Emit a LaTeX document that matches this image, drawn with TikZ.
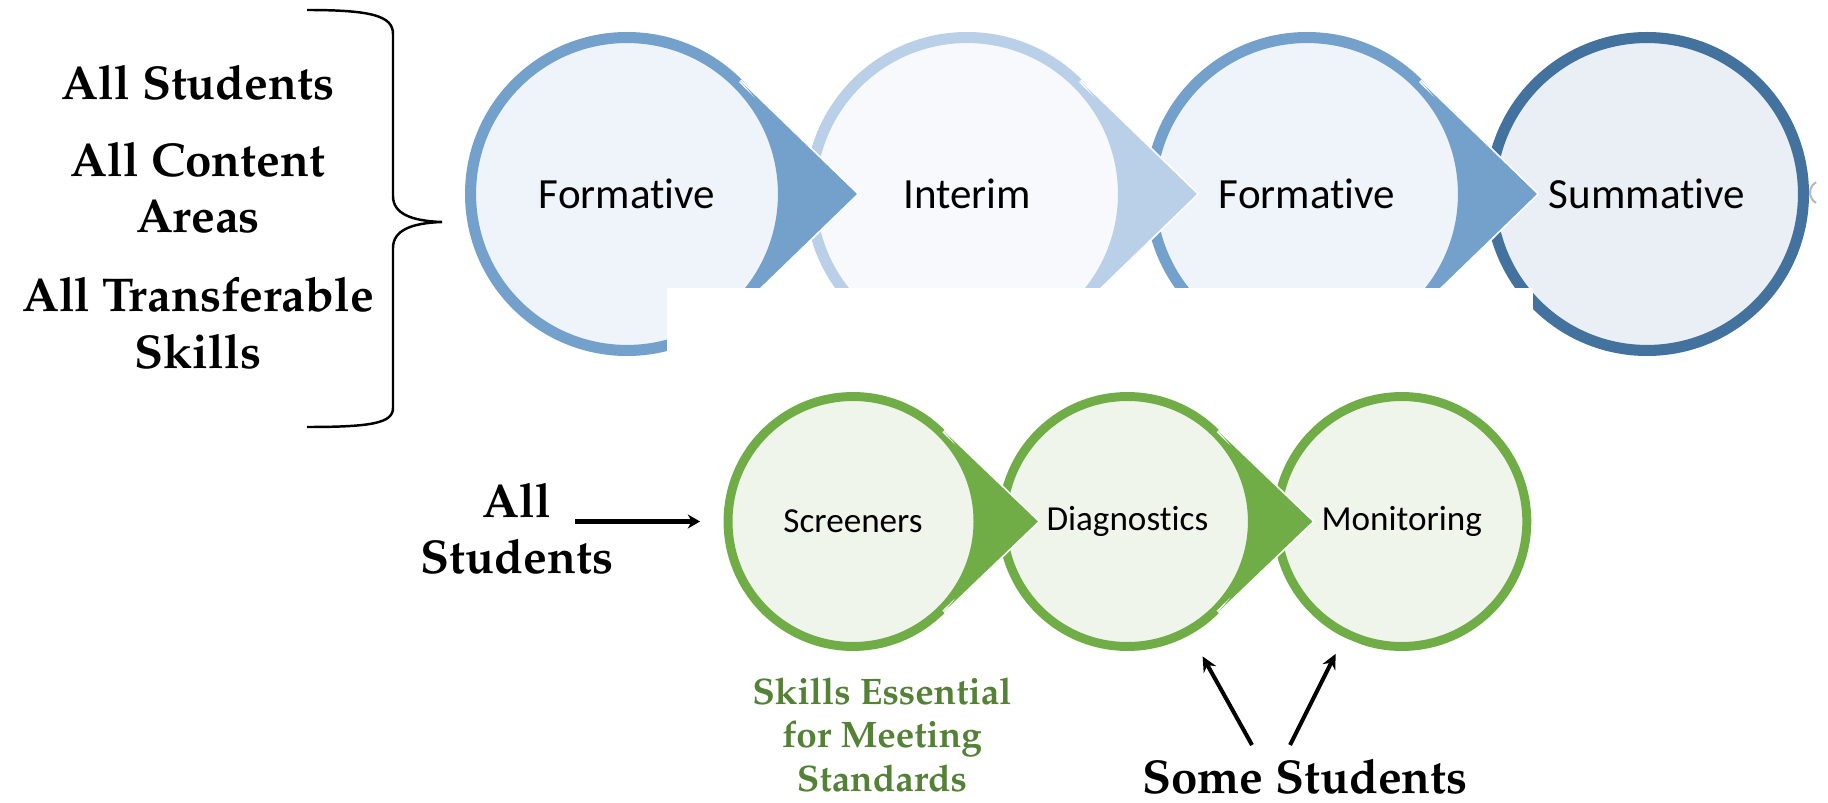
\documentclass[tikz,border=0pt]{standalone}
\usepackage[T1]{fontenc}
\usepackage{fontspec}
\newfontfamily\calibri[Ligatures=NoCommon]{Carlito}
\newcommand\pala{\fontencoding{T1}\fontfamily{ppl}\bfseries}
\usepackage{tikz}
\usetikzlibrary {arrows.meta,
                 positioning}

\definecolor{blueA}{HTML}{74A0CC}
\definecolor{blueAf}{HTML}{EFF4FA}
\definecolor{blueB}{HTML}{BACFE8}
\definecolor{blueBf}{HTML}{F7F9FD}
\definecolor{blueC}{HTML}{44729F}
\definecolor{blueCf}{HTML}{E9EFF5}
\definecolor{greenA}{HTML}{70AD47}
\definecolor{greenF}{HTML}{EFF5EA}
\definecolor{greenT}{HTML}{538135}

\tikzset{
         phase/.style={circle, inner sep=0pt, minimum size=6.26cm, line width=6.3pt,
                       font=\calibri\fontsize{24.5}{29}\selectfont},
         tier/.style={circle, draw=greenA, fill=greenF, inner sep=0pt, minimum size=5cm,
                      line width=5.1pt, font=\calibri\fontsize{20}{24}\selectfont},
         bold/.style={anchor=base, inner sep=0pt, font=\pala\fontsize{27}{32}\selectfont},
         note/.style={anchor=base, inner sep=0pt, text=greenT, font=\pala\fontsize{21}{25}\selectfont},
         myarrow/.style={-{Stealth[length=8.5pt, width=8pt]}, line width=2.3pt},
         inarrow/.style={-{Stealth[length=7pt, width=8pt]}, line width=2.8pt},
}

\begin{document}
\begin{tikzpicture}[x=0.02cm, y=0.02cm]
    \useasboundingbox (0,0) rectangle (1828,802);

    % Links: Gruppen und Klammer
    \node[bold] (stud) at (198,702) {All Students};
    \node[bold] (cont) at (198,625) {All Content};
    \node[bold] (area) at (198,569) {Areas};
    \node[bold] (trans) at (198,490) {All Transferable};
    \node[bold] (skill) at (198,434) {Skills};
    \draw[line width=1.4pt] (307,792) .. controls (372,792) and (393,786) .. (393,768)
        -- (393,606) .. controls (393,588) and (412,581) .. (442,580)
        .. controls (412,579) and (393,572) .. (393,554)
        -- (393,394) .. controls (393,379) and (372,375) .. (307,375);

    % Obere Reihe
    \node[phase, draw=blueA, fill=blueAf] (form1) at (627,608) {Formative};
    \node[phase, draw=blueB, fill=blueBf, right=0.32cm of form1] (inter) {Interim};
    \node[phase, draw=blueA, fill=blueAf, right=0.32cm of inter] (form2) {Formative};
    \node[phase, draw=blueC, fill=blueCf, right=0.32cm of form2] (summ) {Summative};
    \coordinate[right=4.6cm of form1.center] (tip1);
    \coordinate[right=4.6cm of inter.center] (tip2);
    \coordinate[right=4.6cm of form2.center] (tip3);
    \foreach \n/\t/\c in {form1/tip1/blueA, inter/tip2/blueB, form2/tip3/blueA} {
        \draw[white, line width=2pt, line join=round] ([shift={(45:3.2cm)}]\n.center) -- (\t)
            -- ([shift={(-45:3.2cm)}]\n.center);
        \fill[\c] ([shift={(45:3.2cm)}]\n.center) -- (\t) -- ([shift={(-45:3.2cm)}]\n.center)
            arc[start angle=-45, end angle=45, radius=3.2cm] -- cycle;
    }
    \fill[white] (667,442) rectangle (1533,514);
    \draw[gray!55, line width=1.2pt] (1822,609.5) ++(120:12) arc[start angle=120, end angle=240, radius=12];

    % Untere Reihe
    \node[tier] (scr) at (853,280.5) {Screeners};
    \node[tier, right=0.31cm of scr] (diag) {Diagnostics};
    \node[tier, right=0.31cm of diag] (mon) {Monitoring};
    \coordinate[right=3.7cm of scr.center] (tip4);
    \coordinate[right=3.7cm of diag.center] (tip5);
    \foreach \n/\t in {scr/tip4, diag/tip5} {
        \draw[white, line width=2pt, line join=round] ([shift={(45:2.56cm)}]\n.center) -- (\t)
            -- ([shift={(-45:2.56cm)}]\n.center);
        \fill[greenA] ([shift={(45:2.56cm)}]\n.center) -- (\t) -- ([shift={(-45:2.56cm)}]\n.center)
            arc[start angle=-45, end angle=45, radius=2.56cm] -- cycle;
    }
    \fill[white] (1327,171) -- (1365,156) -- (1300,49) -- (1270,62) -- cycle;

    \node[bold] (all) at (517,285) {All};
    \node[bold] (allst) at (517,229) {Students};
    \coordinate (allin) at (575,280.5);
    \draw[inarrow] (allin) -- ([xshift=-0.47cm]scr.west);

    \node[note] (ess1) at (882,98) {Skills Essential};
    \node[note] (ess2) at (882,55) {for Meeting};
    \node[note] (ess3) at (882,11) {Standards};

    \node[bold] (some) at (1305,9) {Some Students};
    \coordinate (s1) at (1252,57);
    \coordinate (s2) at (1290,57);
    \draw[myarrow, shorten >=0.5cm] (s1) -- (diag);
    \draw[myarrow, shorten >=0.37cm] (s2) -- (mon);
\end{tikzpicture}
\end{document}
